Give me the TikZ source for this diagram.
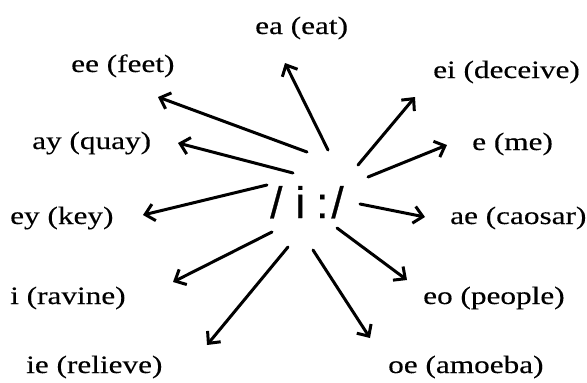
\documentclass[tikz,border=0pt]{standalone}
\usepackage{fontspec}
\setmainfont[FakeStretch=1.25,FakeBold=0.3]{Liberation Serif}
\newfontfamily\centfont[FakeBold=0.6]{Liberation Sans}
\usetikzlibrary{arrows.meta}
\tikzset{
  lbl/.style={anchor=base west, inner sep=0pt, font=\fontsize{25}{30}\selectfont},
  arr/.style={line width=3pt, line cap=round, -{Straight Barb[length=9pt, width=17pt, line width=3pt]}},
}
\begin{document}
\begin{tikzpicture}[x=1pt, y=-1pt]
\useasboundingbox (0,0) rectangle (587,383);
% centre symbol
\node[anchor=base west, inner sep=0pt, font=\centfont\fontsize{44}{48}\selectfont] (c) at (270,218) {/\hspace{13pt}i\hspace{11pt}:\hspace{3pt}/};
% labels
\node[lbl] (ea)  at (255,34)  {ea (eat)};
\node[lbl] (ee)  at (71,72)   {ee (feet)};
\node[lbl] (ei)  at (433,78)  {ei (deceive)};
\node[lbl] (ay)  at (32,149)  {ay (quay)};
\node[lbl] (me)  at (472,150) {e (me)};
\node[lbl] (ey)  at (10,224)  {ey (key)};
\node[lbl] (ae)  at (450,224) {ae (caosar)};
\node[lbl] (ir)  at (10,304)  {i (ravine)};
\node[lbl] (eo)  at (423,304) {eo (people)};
\node[lbl] (ie)  at (26,373)  {ie (relieve)};
\node[lbl] (oe)  at (388,373) {oe (amoeba)};
% arrow ends
\coordinate (t1) at (328,150);  \coordinate (h1) at (285,63);
\coordinate (t2) at (307,152);  \coordinate (h2) at (158,97);
\coordinate (t3) at (293,173);  \coordinate (h3) at (178,143);
\coordinate (t4) at (267,185);  \coordinate (h4) at (143,215);
\coordinate (t5) at (272,232);  \coordinate (h5) at (173,282);
\coordinate (t6) at (288,247);  \coordinate (h6) at (207,345);
\coordinate (t7) at (313,250);  \coordinate (h7) at (370,338);
\coordinate (t8) at (337,228);  \coordinate (h8) at (407,280);
\coordinate (t9) at (360,204);  \coordinate (h9) at (425,217);
\coordinate (t10) at (368,177); \coordinate (h10) at (447,145);
\coordinate (t11) at (358,165); \coordinate (h11) at (415,97);
\foreach \k in {1,...,11} { \draw[arr] (t\k) -- (h\k); }
\end{tikzpicture}
\end{document}
